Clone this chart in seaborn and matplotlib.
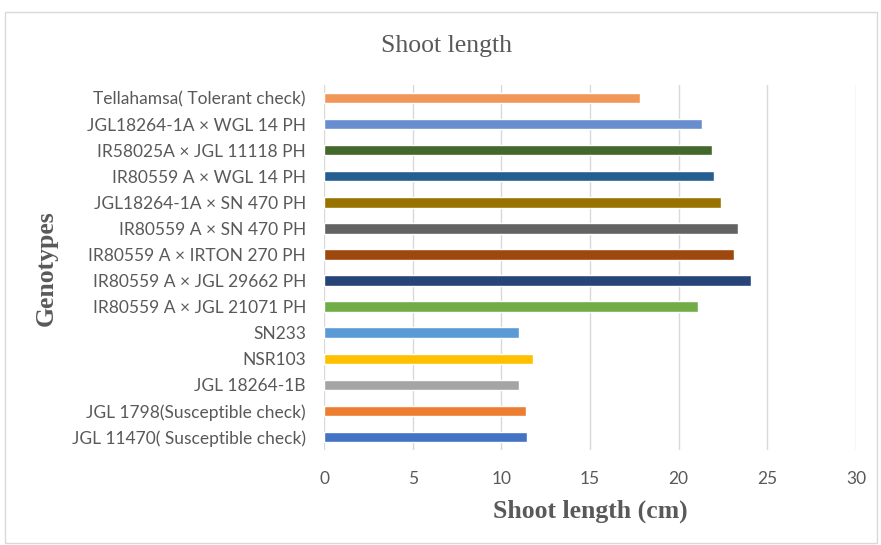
import matplotlib
matplotlib.use("Agg")
import matplotlib.pyplot as plt
import seaborn as sns
import pandas as pd
from matplotlib.patches import Rectangle

# --- data (top to bottom, as shown) ---
genotypes = [
    "Tellahamsa( Tolerant check)",
    "JGL18264-1A × WGL 14 PH",
    "IR58025A × JGL 11118 PH",
    "IR80559 A × WGL 14 PH",
    "JGL18264-1A × SN 470 PH",
    "IR80559 A × SN 470 PH",
    "IR80559 A × IRTON 270 PH",
    "IR80559 A × JGL 29662 PH",
    "IR80559 A × JGL 21071 PH",
    "SN233",
    "NSR103",
    "JGL 18264-1B",
    "JGL 1798(Susceptible check)",
    "JGL 11470( Susceptible check)",
]
shoot_length = [17.8, 21.3, 21.87, 21.97, 22.37, 23.34, 23.1,
                24.08, 21.07, 10.99, 11.79, 10.99, 11.39, 11.43]
bar_colors = ["#F1975A", "#698ED0", "#43682B", "#255E91", "#997300",
              "#636363", "#9E480E", "#264478", "#70AD47", "#5B9BD5",
              "#FFC000", "#A5A5A5", "#ED7D31", "#4472C4"]
x_ticks = [0, 5, 10, 15, 20, 25, 30]

TEXT_GREY = "#595959"
SERIF = "Liberation Serif"
SANS = "Lato"

df = pd.DataFrame({"genotype": genotypes, "length": shoot_length})

sns.set_style("white")
fig = plt.figure(figsize=(8.81, 5.45), dpi=100)
ax = fig.add_axes([324 / 881, 1 - 450 / 545, (856 - 324) / 881, 365 / 545])

sns.barplot(data=df, x="length", y="genotype", hue="genotype",
            order=genotypes, hue_order=genotypes, palette=bar_colors,
            width=0.4, legend=False, ax=ax, saturation=1)

ax.set_xlim(0, 30)
ax.set_xticks(x_ticks)
ax.grid(axis="x", color="#D9D9D9", linewidth=1)
ax.set_axisbelow(True)
for s in ax.spines.values():
    s.set_visible(False)
ax.tick_params(axis="both", length=0, colors=TEXT_GREY, labelsize=12.5)
ax.tick_params(axis="y", pad=13)
ax.tick_params(axis="x", pad=15)
for lbl in ax.get_xticklabels() + ax.get_yticklabels():
    lbl.set_fontfamily(SANS)

ax.set_ylabel("")
ax.set_xlabel("Shoot length (cm)", fontfamily=SERIF, fontweight="bold",
              fontsize=18.5, color=TEXT_GREY, labelpad=9)

fig.text(447 / 881, 1 - 46 / 545, "Shoot length", fontfamily=SERIF,
         fontsize=18.5, color=TEXT_GREY, ha="center", va="center")
fig.text(46 / 881, 1 - 268 / 545, "Genotypes", fontfamily=SERIF,
         fontweight="bold", fontsize=18.5, color=TEXT_GREY, rotation=90,
         ha="center", va="center")

# chart frame
fig.patches.append(Rectangle((5 / 881, 0.003), 0.99, 1 - 12 / 545 - 0.003,
                             transform=fig.transFigure, fill=False,
                             edgecolor="#D9D9D9", linewidth=1))

fig.savefig("out.png", dpi=100)
